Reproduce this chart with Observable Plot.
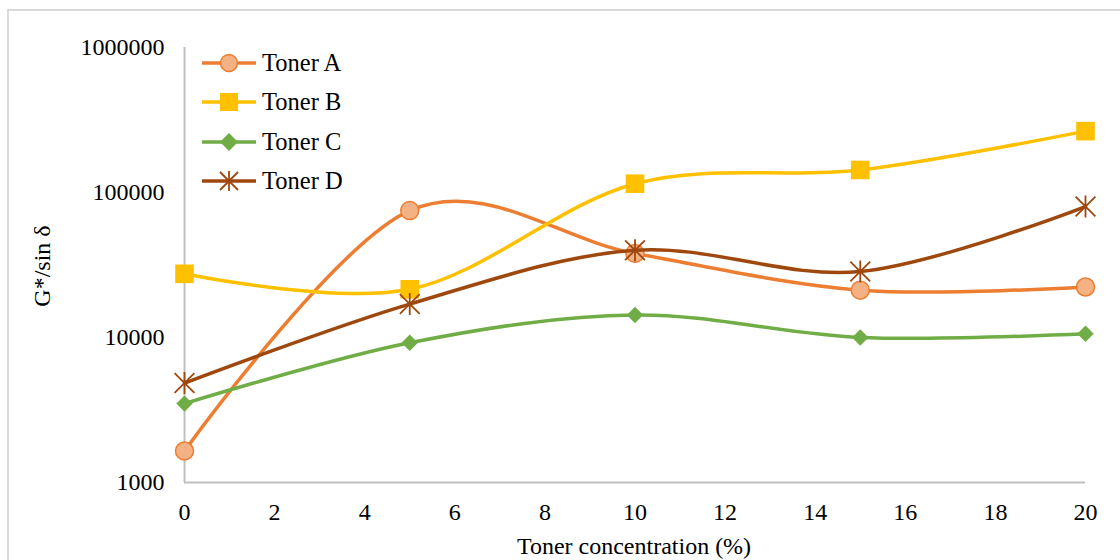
<!DOCTYPE html>
<html>
<head>
<meta charset="utf-8">
<script src="https://cdn.jsdelivr.net/npm/d3@7"></script>
<script src="https://cdn.jsdelivr.net/npm/@observablehq/plot@0.6"></script>
<style>
  html, body { margin: 0; padding: 0; background: #fff; }
  #wrap { position: relative; width: 1120px; height: 560px; overflow: hidden; font-family: "Liberation Serif", "Times New Roman", serif; color: #000; }
  #frame { position: absolute; left: 7px; top: 9px; width: 1130px; height: 570px; border: 2px solid #d9d9d9; box-sizing: border-box; }
  #chart { position: absolute; left: 0; top: 0; }
  .ytitle { position: absolute; left: 42px; top: 266px; transform: translate(-50%, -50%) rotate(-90deg); font-size: 24px; white-space: nowrap; }
  .xtitle { position: absolute; left: 634px; top: 546px; transform: translate(-50%, -50%); font-size: 24px; white-space: nowrap; }
  #legend { position: absolute; left: 200px; top: 43px; }
  .lrow { display: flex; align-items: center; height: 39.5px; font-size: 24.5px; }
  .lrow svg { margin-right: 4px; }
</style>
</head>
<body>
<div id="wrap">
  <div id="frame"></div>
  <div id="chart"></div>
  <div class="ytitle">G*/sin δ</div>
  <div class="xtitle">Toner concentration (%)</div>
  <div id="legend"></div>
</div>
<script>
// ---- Data ----
const concentrations = [0, 5, 10, 15, 20];
const seriesNames = ["Toner A", "Toner B", "Toner C", "Toner D"];
const tonerA = [1650, 75000, 38000, 21200, 22300];
const tonerB = [27500, 21500, 115000, 143000, 265000];
const tonerC = [3500, 9200, 14300, 10000, 10600];
const tonerD = [4850, 17000, 40000, 28500, 80000];
const xTicks = [0, 2, 4, 6, 8, 10, 12, 14, 16, 18, 20];
const yTicks = [1000, 10000, 100000, 1000000];

// ---- Styles ----
const excelStar = {
  draw(ctx, size) {
    const r = Math.sqrt(size / Math.PI);
    const d = r * 0.9;
    ctx.moveTo(0, -r); ctx.lineTo(0, r);
    ctx.moveTo(-d, -d); ctx.lineTo(d, d);
    ctx.moveTo(-d, d); ctx.lineTo(d, -d);
  }
};
const styles = [
  {line: "#ED7D31", symbol: "circle", r: 9, fill: "#F4B183", stroke: "#ED7D31", sw: 1.5},
  {line: "#FFC000", symbol: "square", r: 10.5, fill: "#FFC000", stroke: "none", sw: 0},
  {line: "#70AD47", symbol: "diamond2", r: 7.4, fill: "#70AD47", stroke: "none", sw: 0},
  {line: "#9E480E", symbol: excelStar, r: 11, fill: "none", stroke: "#9E480E", sw: 1.8}
];
const values = [tonerA, tonerB, tonerC, tonerD];
const rows = seriesNames.flatMap((name, i) =>
  concentrations.map((c, j) => ({series: name, x: c, y: values[i][j]})));

const marks = [
  Plot.ruleX([0], {stroke: "#bfbfbf", strokeWidth: 2}),
  Plot.ruleY([1000], {stroke: "#bfbfbf", strokeWidth: 2})
];
seriesNames.forEach((name, i) => {
  const d = rows.filter(r => r.series === name);
  const s = styles[i];
  marks.push(Plot.line(d, {x: "x", y: "y", stroke: s.line, strokeWidth: 3.5, curve: "cardinal", tension: 0}));
  marks.push(Plot.dot(d, {x: "x", y: "y", symbol: () => s.symbol, r: s.r, fill: s.fill, stroke: s.stroke, strokeWidth: s.sw}));
});

const chart = Plot.plot({
  width: 1120,
  height: 560,
  marginLeft: 184,
  marginRight: 35,
  marginTop: 47,
  marginBottom: 78,
  style: {fontFamily: '"Liberation Serif", "Times New Roman", serif', fontSize: "24px", color: "#000", background: "transparent"},
  symbol: {type: "identity"},
  x: {domain: [0, 20], ticks: xTicks, tickSize: 0, tickPadding: 20, label: null},
  y: {type: "log", domain: [1000, 1000000], ticks: yTicks, tickFormat: d => String(d), tickSize: 0, tickPadding: 20, label: null},
  marks
});
chart.querySelectorAll("text").forEach(t => t.setAttribute("font-size", "24"));
document.getElementById("chart").appendChild(chart);

// ---- Legend ----
const legend = document.getElementById("legend");
const ns = "http://www.w3.org/2000/svg";
seriesNames.forEach((name, i) => {
  const s = styles[i];
  const row = document.createElement("div");
  row.className = "lrow";
  const svg = document.createElementNS(ns, "svg");
  svg.setAttribute("width", 58); svg.setAttribute("height", 24);
  const cy = 12, cx = 29;
  let g = `<line x1="2" x2="56" y1="${cy}" y2="${cy}" stroke="${s.line}" stroke-width="3.5"/>`;
  if (i === 0) g += `<circle cx="${cx}" cy="${cy}" r="8.5" fill="${s.fill}" stroke="${s.stroke}" stroke-width="1.5"/>`;
  if (i === 1) g += `<rect x="${cx-9}" y="${cy-9}" width="18" height="18" fill="${s.fill}"/>`;
  if (i === 2) g += `<path d="M${cx},${cy-9}L${cx+9},${cy}L${cx},${cy+9}L${cx-9},${cy}Z" fill="${s.fill}"/>`;
  if (i === 3) g += `<path d="M${cx},${cy-10}V${cy+10}M${cx-9},${cy-9}L${cx+9},${cy+9}M${cx-9},${cy+9}L${cx+9},${cy-9}" stroke="${s.stroke}" stroke-width="1.8" fill="none"/>`;
  svg.innerHTML = g;
  row.appendChild(svg);
  const t = document.createElement("span");
  t.textContent = name;
  row.appendChild(t);
  legend.appendChild(row);
});
</script>
</body>
</html>
